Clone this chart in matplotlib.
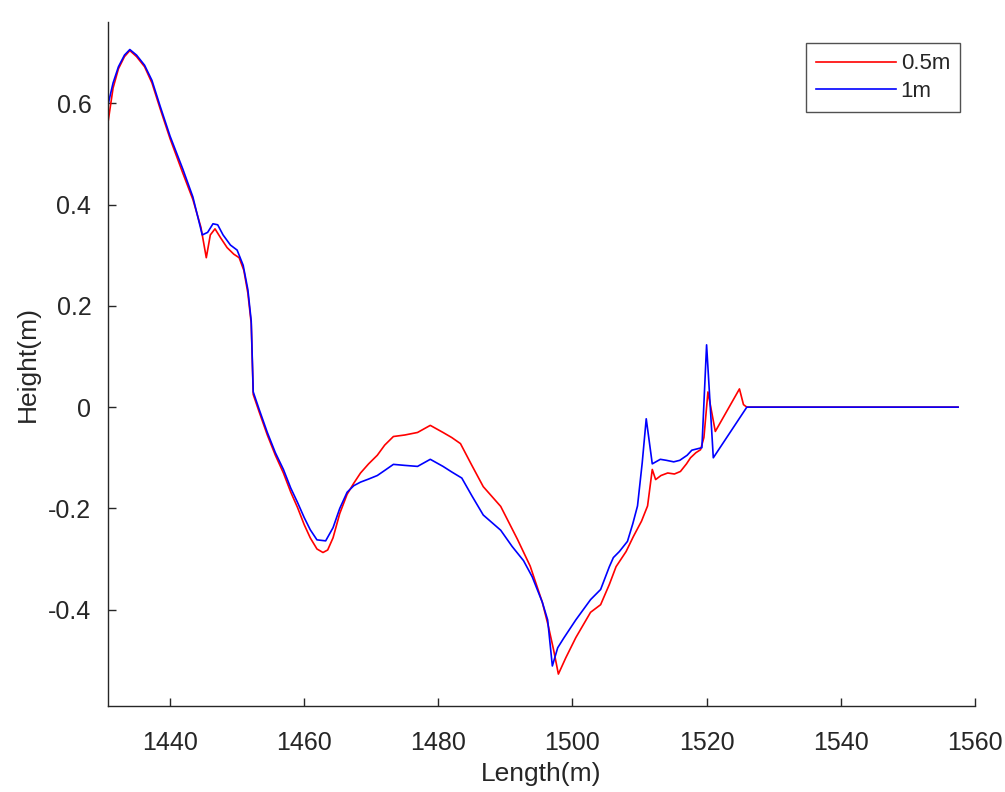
import matplotlib
matplotlib.use("Agg")
import matplotlib.pyplot as plt

# 1m sampling
x_1m = [1430.8, 1431.5, 1432.3, 1433.2, 1434.0, 1435.0, 1436.2, 1437.3, 1438.5, 1440.0,
        1441.9, 1443.4, 1444.8, 1445.6, 1446.4, 1447.1, 1447.9, 1449.0, 1450.0, 1450.9,
        1451.6, 1452.1, 1452.4, 1453.3, 1454.5, 1455.7, 1456.9, 1458.0, 1459.0, 1460.0,
        1460.9, 1461.9, 1463.2, 1464.3, 1465.3, 1466.4, 1467.4, 1468.4, 1469.6, 1470.9,
        1472.0, 1473.3, 1475.0, 1476.9, 1478.8, 1480.7, 1482.0, 1483.5, 1485.0, 1486.7,
        1489.3, 1491.0, 1492.7, 1494.0, 1495.5, 1496.3, 1497.0, 1497.8, 1498.7, 1500.5,
        1502.7, 1504.2, 1505.5, 1506.1, 1507.0, 1508.2, 1509.0, 1509.7, 1510.4, 1511.0,
        1511.9, 1513.1, 1514.0, 1515.1, 1516.0, 1517.1, 1517.8, 1518.7, 1519.3, 1520.0,
        1521.0, 1526.0, 1557.5]
h_1m = [0.600, 0.640, 0.672, 0.695, 0.706, 0.695, 0.675, 0.645, 0.595, 0.535,
        0.470, 0.415, 0.340, 0.345, 0.362, 0.360, 0.340, 0.320, 0.310, 0.280,
        0.232, 0.170, 0.030, -0.005, -0.050, -0.090, -0.123, -0.160, -0.188, -0.218,
        -0.242, -0.262, -0.264, -0.238, -0.200, -0.168, -0.155, -0.148, -0.142, -0.135,
        -0.125, -0.113, -0.115, -0.117, -0.103, -0.117, -0.128, -0.140, -0.175, -0.213,
        -0.243, -0.275, -0.303, -0.335, -0.385, -0.420, -0.511, -0.475, -0.456, -0.420,
        -0.380, -0.360, -0.315, -0.297, -0.285, -0.265, -0.230, -0.195, -0.110, -0.023,
        -0.112, -0.103, -0.105, -0.108, -0.105, -0.095, -0.085, -0.082, -0.080, 0.123,
        -0.100, 0.000, 0.000]

# 0.5m sampling
x_05m = [1430.8, 1431.5, 1432.3, 1433.2, 1434.0, 1435.0, 1436.2, 1437.3, 1438.5, 1440.0,
         1441.9, 1443.4, 1444.6, 1445.4, 1446.0, 1446.7, 1447.5, 1448.5, 1449.5, 1450.3,
         1451.0, 1451.6, 1452.1, 1452.4, 1453.3, 1454.5, 1455.7, 1456.9, 1458.0, 1459.0,
         1460.0, 1460.9, 1461.9, 1462.8, 1463.5, 1464.3, 1465.3, 1466.4, 1467.4, 1468.4,
         1469.6, 1470.9, 1472.0, 1473.3, 1475.0, 1476.9, 1478.8, 1480.7, 1482.0, 1483.3,
         1485.0, 1486.7, 1489.3, 1491.8, 1493.7, 1495.5, 1496.4, 1497.2, 1497.9, 1499.0,
         1500.5, 1502.7, 1504.2, 1505.5, 1506.5, 1508.0, 1509.1, 1510.3, 1511.2, 1511.9,
         1512.4, 1513.2, 1514.2, 1515.2, 1516.1, 1517.0, 1517.6, 1518.4, 1519.1, 1519.6,
         1520.2, 1521.3, 1524.9, 1525.5, 1526.0, 1557.5]
h_05m = [0.567, 0.630, 0.668, 0.692, 0.704, 0.692, 0.672, 0.640, 0.590, 0.530,
         0.462, 0.410, 0.355, 0.295, 0.340, 0.352, 0.335, 0.315, 0.302, 0.295,
         0.270, 0.225, 0.165, 0.025, -0.010, -0.055, -0.095, -0.130, -0.168, -0.198,
         -0.232, -0.258, -0.280, -0.287, -0.282, -0.258, -0.210, -0.172, -0.150, -0.130,
         -0.112, -0.095, -0.075, -0.058, -0.055, -0.050, -0.036, -0.050, -0.060, -0.072,
         -0.115, -0.157, -0.196, -0.261, -0.314, -0.385, -0.432, -0.480, -0.527, -0.495,
         -0.455, -0.405, -0.390, -0.350, -0.315, -0.285, -0.255, -0.225, -0.195, -0.123,
         -0.143, -0.135, -0.130, -0.132, -0.127, -0.112, -0.100, -0.090, -0.084, -0.060,
         0.030, -0.048, 0.036, 0.005, 0.000, 0.000]

x_ticks = [1440, 1460, 1480, 1500, 1520, 1540, 1560]
y_ticks = [-0.4, -0.2, 0, 0.2, 0.4, 0.6]
y_tick_labels = ['-0.4', '-0.2', '0', '0.2', '0.4', '0.6']

plt.rcParams['font.family'] = ['Liberation Sans', 'DejaVu Sans']
text_col = '#262626'

fig = plt.figure(figsize=(10.05, 7.92), dpi=100)
ax = fig.add_axes([0.1075, 0.1086, 0.8625, 0.8634])

ax.plot(x_05m, h_05m, color='#ff0000', lw=1.2, label='0.5m')
ax.plot(x_1m, h_1m, color='#0000ff', lw=1.2, label='1m')

ax.set_xlim(1430.75, 1560)
ax.set_ylim(-0.59, 0.76)
ax.set_xticks(x_ticks)
ax.set_yticks(y_ticks)
ax.set_yticklabels(y_tick_labels)

for side in ['top', 'right']:
    ax.spines[side].set_visible(False)
for side in ['left', 'bottom']:
    ax.spines[side].set_color(text_col)
    ax.spines[side].set_linewidth(1.0)

ax.tick_params(direction='in', length=6, width=1.0, colors=text_col,
               labelsize=18)
ax.tick_params(axis='x', pad=18)
ax.tick_params(axis='y', pad=12)

ax.set_xlabel('Length(m)', fontsize=19, color=text_col, labelpad=5)
ax.set_ylabel('Height(m)', fontsize=19, color=text_col, labelpad=6)

leg = ax.legend(loc='upper right', bbox_to_anchor=(0.983, 0.969), fontsize=16,
                frameon=True, fancybox=False, edgecolor=text_col,
                handlelength=3.6, handletextpad=0.2, borderpad=0.45,
                labelspacing=0.3, borderaxespad=0)
leg.get_frame().set_linewidth(1.0)
for t in leg.get_texts():
    t.set_color(text_col)

fig.savefig('out.png', dpi=100)
